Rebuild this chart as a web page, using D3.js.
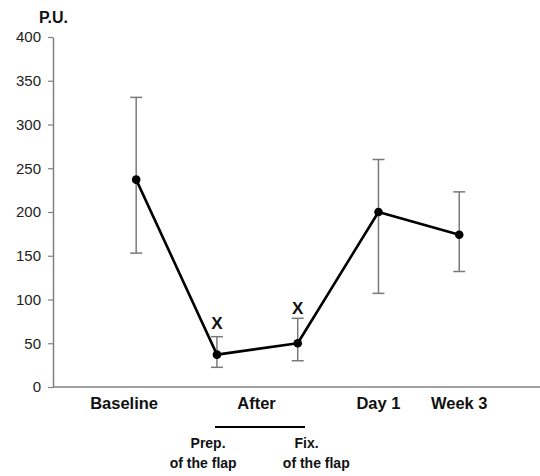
<!DOCTYPE html>
<html>
<head>
<meta charset="utf-8">
<script src="https://cdn.jsdelivr.net/npm/d3@7"></script>
<style>
  body { margin: 0; background: #fff; }
  text { font-family: "Liberation Sans", Arial, sans-serif; }
</style>
</head>
<body>
<svg id="chart" width="540" height="476"></svg>
<script>
// data
var categories = ["Baseline", "Prep.", "Fix.", "Day 1", "Week 3"];
var means = [237, 37, 50, 200, 174];
var lower = [153, 22.5, 30, 107, 132];
var upper = [331, 57.5, 78.5, 260, 223];
var yTicks = [0, 50, 100, 150, 200, 250, 300, 350, 400];
// category labels under the axis, at fractional category positions
var xLabels = [{t: "Baseline", i: -0.15}, {t: "After", i: 1.49}, {t: "Day 1", i: 3}, {t: "Week 3", i: 4}];
var subLabels = [
  {t: "Prep.", i: 0.89, row: 0}, {t: "of the flap", i: 0.83, row: 1},
  {t: "Fix.", i: 2.11, row: 0}, {t: "of the flap", i: 2.23, row: 1}
];
var bracket = [0.976, 2.09];
// significance marks: category index and height (data units)
var marks = [{i: 1, v: 66}, {i: 2, v: 83.5}];

var W = 540, H = 476,
    mLeft = 53, yTop = 37, yBottom = 387;

var svg = d3.select("#chart");

var x = d3.scaleLinear().domain([-1.03, 5]).range([mLeft, W]);
var y = d3.scaleLinear().domain([0, 400]).range([yBottom, yTop]);

// y axis
var yAxis = svg.append("g")
    .attr("transform", "translate(" + mLeft + ",0)")
    .call(d3.axisLeft(y).tickValues(yTicks).tickSize(5).tickSizeOuter(0).tickPadding(7));
yAxis.select(".domain").attr("stroke", "#808080").attr("stroke-width", 1.5);
yAxis.selectAll(".tick line").attr("stroke", "#808080").attr("stroke-width", 1.2);
yAxis.selectAll(".tick text")
    .attr("font-size", "15px")
    .attr("fill", "#222")
    .style("font-family", "'Liberation Sans', Arial, sans-serif");

// x axis line
svg.append("line")
    .attr("x1", mLeft).attr("x2", W)
    .attr("y1", y(0)).attr("y2", y(0))
    .attr("stroke", "#808080").attr("stroke-width", 1.5);

// unit label
svg.append("text")
    .attr("x", 39).attr("y", 23)
    .attr("font-size", "16px").attr("font-weight", "bold")
    .attr("fill", "#111")
    .text("P.U.");

// error bars
var eb = svg.append("g").attr("stroke", "#7a7a7a").attr("stroke-width", 1.5);
means.forEach(function(m, i){
  var cx = x(i);
  eb.append("line").attr("x1", cx).attr("x2", cx).attr("y1", y(lower[i])).attr("y2", y(upper[i]));
  eb.append("line").attr("x1", cx - 6).attr("x2", cx + 6).attr("y1", y(lower[i])).attr("y2", y(lower[i]));
  eb.append("line").attr("x1", cx - 6).attr("x2", cx + 6).attr("y1", y(upper[i])).attr("y2", y(upper[i]));
});

// mean line
var line = d3.line()
    .x(function(d, i){ return x(i); })
    .y(function(d){ return y(d); });

svg.append("path")
    .datum(means)
    .attr("d", line)
    .attr("fill", "none")
    .attr("stroke", "#000")
    .attr("stroke-width", 2.6)
    .attr("stroke-linejoin", "round");

svg.selectAll(".pt")
    .data(means)
    .enter().append("circle")
    .attr("class", "pt")
    .attr("cx", function(d, i){ return x(i); })
    .attr("cy", function(d){ return y(d); })
    .attr("r", 4.3)
    .attr("fill", "#000");

// significance marks
svg.selectAll(".mark")
    .data(marks)
    .enter().append("text")
    .attr("class", "mark")
    .attr("x", function(d){ return x(d.i); })
    .attr("y", function(d){ return y(d.v); })
    .attr("text-anchor", "middle")
    .attr("font-size", "17px").attr("font-weight", "bold")
    .attr("fill", "#111")
    .text("X");

// category labels
svg.selectAll(".xlab")
    .data(xLabels)
    .enter().append("text")
    .attr("class", "xlab")
    .attr("x", function(d){ return x(d.i); })
    .attr("y", 409)
    .attr("text-anchor", "middle")
    .attr("font-size", "16.5px").attr("font-weight", "bold")
    .attr("fill", "#111")
    .text(function(d){ return d.t; });

// bracket under "After"
svg.append("line")
    .attr("x1", x(bracket[0])).attr("x2", x(bracket[1]))
    .attr("y1", 427).attr("y2", 427)
    .attr("stroke", "#000").attr("stroke-width", 2.2);

svg.selectAll(".sub")
    .data(subLabels)
    .enter().append("text")
    .attr("class", "sub")
    .attr("x", function(d){ return x(d.i); })
    .attr("y", function(d){ return 448 + d.row * 20; })
    .attr("text-anchor", "middle")
    .attr("font-size", "14px").attr("font-weight", "bold")
    .attr("fill", "#111")
    .text(function(d){ return d.t; });
</script>
</body>
</html>
